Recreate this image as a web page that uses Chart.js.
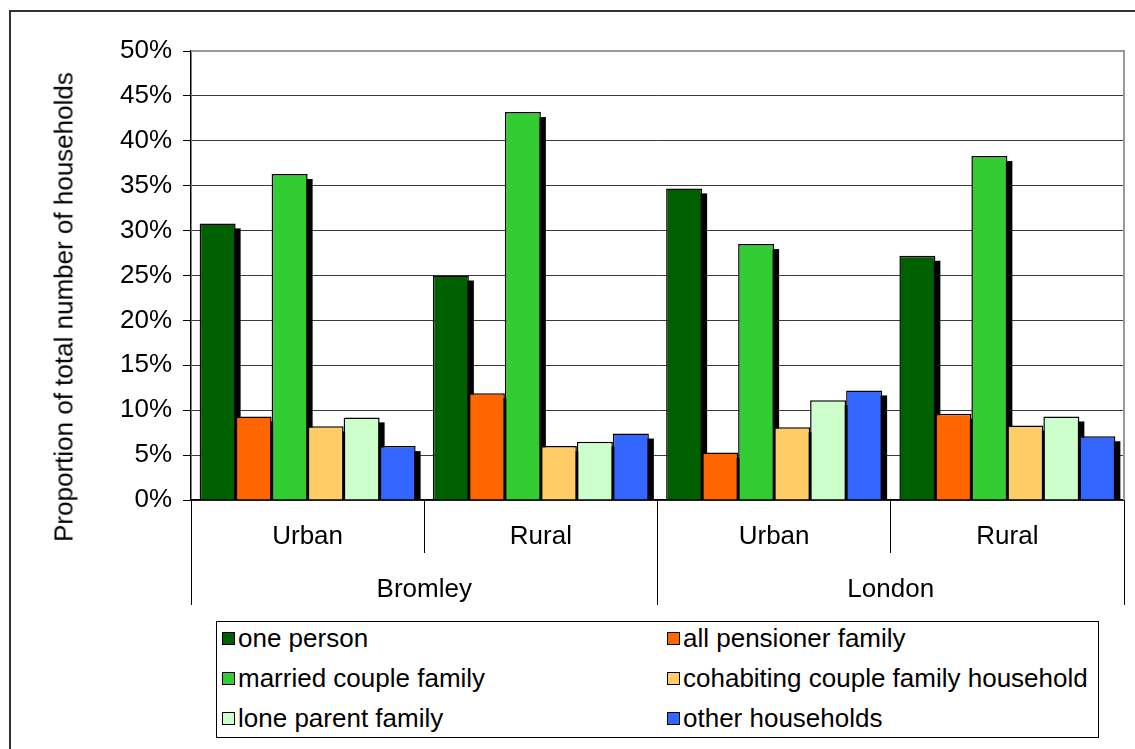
<!DOCTYPE html>
<html lang="en">
<head>
<meta charset="UTF-8" />
<title>Household types - Bromley and London</title>
<style>
  html, body { margin: 0; padding: 0; background: #fff; overflow: hidden; }
  .frame { position: absolute; left: 9px; top: 10px; width: 1200px; height: 800px; border: 2px solid #333; }
  .chart-box { position: absolute; left: 0; top: 0; width: 1135px; height: 749px; }
  #ytitle {
    position: absolute; left: 64px; top: 307px; white-space: nowrap;
    transform: translate(-50%, -50%) rotate(-90deg);
    font-family: "Liberation Sans", Arial, sans-serif; font-size: 26px; color: #000;
  }
  #legend {
    position: absolute; left: 216px; top: 621px; width: 881px; height: 115px;
    border: 1px solid #000; background: #fff;
    font-family: "Liberation Sans", Arial, sans-serif; font-size: 26px; color: #000;
  }
  #legend .item { position: absolute; display: flex; align-items: center; height: 30px; white-space: nowrap; }
  #legend .swatch { width: 11px; height: 11px; border: 1.5px solid #000; margin-right: 3px; }
</style>
</head>
<body>
<div class="frame"></div>
<div class="chart-box"><canvas id="householdChart"></canvas></div>
<div id="ytitle">Proportion of total number of households</div>
<div id="legend"></div>

<script src="https://cdn.jsdelivr.net/npm/chart.js@4.4.1/dist/chart.umd.min.js"></script>
<script>
// values, in percent
const areaTypes = ['Urban', 'Rural', 'Urban', 'Rural'];
const regions = ['Bromley', 'London'];

const onePerson = [30.8, 25.0, 34.7, 27.2];
const allPensioner = [9.3, 11.9, 5.3, 9.6];
const marriedCouple = [36.3, 43.2, 28.5, 38.3];
const cohabitingCouple = [8.2, 6.0, 8.1, 8.3];
const loneParent = [9.2, 6.5, 11.1, 9.3];
const otherHouseholds = [6.0, 7.4, 12.2, 7.1];

const seriesNames = ['one person', 'all pensioner family', 'married couple family',
  'cohabiting couple family household', 'lone parent family', 'other households'];
const seriesValues = [onePerson, allPensioner, marriedCouple, cohabitingCouple, loneParent, otherHouseholds];
const seriesColors = ['#006000', '#FF6600', '#33CC33', '#FFCC66', '#CCFFCC', '#3366FF'];

Chart.defaults.font.family = '"Liberation Sans", Arial, sans-serif';
Chart.defaults.font.size = 26;
Chart.defaults.color = '#000';

// black drop shadow behind each bar, plus grey plot border on top/right
const barShadow = {
  id: 'barShadow',
  beforeDatasetsDraw(chart) {
    const { ctx, chartArea: a } = chart;
    ctx.save();
    ctx.strokeStyle = '#999';
    ctx.lineWidth = 2;
    ctx.beginPath();
    ctx.moveTo(a.left, a.top);
    ctx.lineTo(a.right, a.top);
    ctx.lineTo(a.right, a.bottom);
    ctx.stroke();

    ctx.beginPath();
    ctx.rect(a.left, a.top, a.right - a.left, a.bottom - a.top);
    ctx.clip();
    ctx.fillStyle = '#000';
    chart.data.datasets.forEach((ds, i) => {
      chart.getDatasetMeta(i).data.forEach(bar => {
        const p = bar.getProps(['x', 'y', 'base', 'width'], true);
        ctx.fillRect(p.x - p.width / 2 + 5, p.y + 5, p.width, p.base - p.y);
      });
    });
    ctx.restore();
  }
};

const chart = new Chart(document.getElementById('householdChart'), {
  type: 'bar',
  data: {
    labels: areaTypes,
    datasets: seriesNames.map((name, i) => ({
      label: name,
      data: seriesValues[i],
      backgroundColor: seriesColors[i],
      borderColor: '#000',
      borderWidth: 1.5,
      categoryPercentage: 0.926,
      barPercentage: 1.0
    }))
  },
  options: {
    responsive: true,
    maintainAspectRatio: false,
    animation: false,
    layout: { padding: { left: 0, top: 51, right: 11, bottom: 144 } },
    plugins: {
      legend: { display: false },
      tooltip: { enabled: false }
    },
    scales: {
      y: {
        min: 0,
        max: 50,
        ticks: { stepSize: 5, padding: 11, callback: v => v + '%' },
        grid: {
          color: ctx => (ctx.tick && ctx.tick.value === 50) ? '#999' : '#3a3a3a',
          tickColor: '#000',
          tickLength: 8
        },
        border: { color: '#000', width: 1.5 },
        afterFit: s => { s.width = 191; }
      },
      x: {
        ticks: { padding: -32 },
        grid: { offset: true, drawOnChartArea: false, tickLength: 53, tickColor: '#000', tickWidth: 1 },
        border: { color: '#000', width: 1.5 },
        afterFit: s => { s.height = 53; }
      },
      x2: {
        type: 'category',
        position: 'bottom',
        labels: regions,
        offset: true,
        ticks: { padding: -31 },
        grid: { offset: true, drawOnChartArea: false, tickLength: 52, tickColor: '#000', tickWidth: 1 },
        border: { display: false },
        afterFit: s => { s.height = 52; }
      }
    }
  },
  plugins: [barShadow]
});

// two-column legend box built from the chart's datasets
const legendBox = document.getElementById('legend');
chart.data.datasets.forEach((ds, i) => {
  const item = document.createElement('div');
  item.className = 'item';
  item.style.left = (i % 2 === 0 ? 5 : 450) + 'px';
  item.style.top = (1 + Math.floor(i / 2) * 40) + 'px';
  const sw = document.createElement('span');
  sw.className = 'swatch';
  sw.style.background = ds.backgroundColor;
  const txt = document.createElement('span');
  txt.textContent = ds.label;
  item.appendChild(sw);
  item.appendChild(txt);
  legendBox.appendChild(item);
});
</script>
</body>
</html>
